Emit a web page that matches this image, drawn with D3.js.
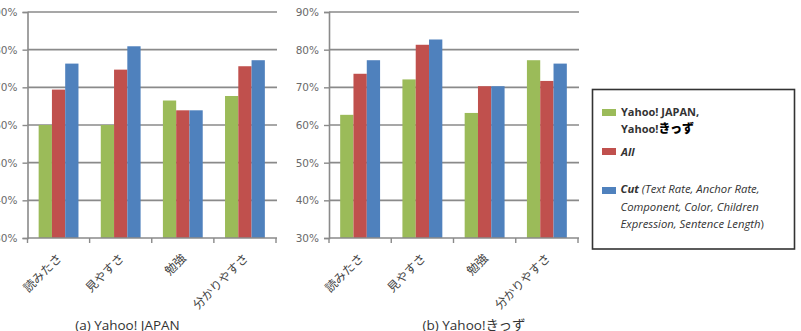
<!DOCTYPE html>
<html><head><meta charset="utf-8">
<script src="https://cdn.jsdelivr.net/npm/d3@7"></script>
<style>
body{margin:0;background:#fff;}
svg{display:block;}
</style></head>
<body>
<svg id="chart" width="801" height="331"></svg>
<script>
const categories = ["読みたさ", "見やすさ", "勉強", "分かりやすさ"];
const seriesNames = ["Yahoo", "All", "Cut"];
const seriesColors = ["#9BBB59", "#C0504D", "#4F81BD"];
const yTicks = [0.3, 0.4, 0.5, 0.6, 0.7, 0.8, 0.9];
// (a) Yahoo! JAPAN
const japanYahoo = [0.600, 0.600, 0.665, 0.677];
const japanAll   = [0.694, 0.747, 0.639, 0.756];
const japanCut   = [0.763, 0.809, 0.639, 0.772];
// (b) Yahoo!きっず
const kidsYahoo = [0.627, 0.721, 0.632, 0.772];
const kidsAll   = [0.736, 0.813, 0.703, 0.717];
const kidsCut   = [0.772, 0.827, 0.703, 0.763];
const titles = ["(a) Yahoo! JAPAN", "(b) Yahoo!きっず"];

const svg = d3.select("#chart");
const gridColor = "#8a8a8a";

function drawPanel(x0px, x1px, series, title, titleX) {
  const g = svg.append("g");
  const y = d3.scaleLinear().domain([0.3, 0.9]).range([238, 12]);
  const x0 = d3.scaleBand().domain(categories).range([x0px, x1px]).padding(0);
  const x1 = d3.scaleBand().domain(seriesNames).range([0, x0.bandwidth()]).paddingInner(0).paddingOuter(0.84);

  g.selectAll("line.grid").data(yTicks.slice(1)).enter().append("line")
    .attr("x1", x0px).attr("x2", x1px + 1)
    .attr("y1", d => y(d)).attr("y2", d => y(d))
    .attr("stroke", gridColor).attr("stroke-width", 1.6);

  categories.forEach((c, i) => {
    seriesNames.forEach((s, j) => {
      const v = series[j][i];
      g.append("rect")
        .attr("x", x0(c) + x1(s))
        .attr("width", x1.bandwidth())
        .attr("y", y(v))
        .attr("height", y(0.3) - y(v))
        .attr("fill", seriesColors[j]);
    });
  });

  const yAxis = d3.axisLeft(y).tickValues(yTicks).tickSize(5).tickPadding(5)
    .tickFormat(d3.format(".0%"));
  const ya = g.append("g").attr("transform", `translate(${x0px},0)`).call(yAxis);
  ya.select(".domain").attr("stroke", gridColor).attr("stroke-width", 1.6);
  ya.selectAll(".tick line").attr("stroke", gridColor).attr("stroke-width", 1.4);
  ya.selectAll(".tick text").attr("fill", "#6a6a6a")
    .style("font-family", "DejaVu Sans").style("font-size", "10.5px");

  g.append("line").attr("x1", x0px).attr("x2", x1px + 1)
    .attr("y1", y(0.3)).attr("y2", y(0.3))
    .attr("stroke", gridColor).attr("stroke-width", 1.6);
  const bounds = categories.map(c => x0(c)).concat([x1px]);
  g.selectAll("line.xt").data(bounds).enter().append("line")
    .attr("x1", d => d).attr("x2", d => d)
    .attr("y1", y(0.3)).attr("y2", y(0.3) + 5)
    .attr("stroke", gridColor).attr("stroke-width", 1.4);

  g.selectAll("text.xl").data(categories).enter().append("text")
    .attr("transform", d => `translate(${x0(d) + x0.bandwidth() / 2 + 4},259) rotate(-45)`)
    .attr("text-anchor", "end")
    .attr("fill", "#444")
    .style("font-family", "Noto Sans CJK JP").style("font-size", "12px")
    .text(d => d);

  g.append("text").attr("x", titleX).attr("y", 330)
    .attr("text-anchor", "middle").attr("fill", "#333")
    .style("font-family", "Open Sans, Noto Sans CJK JP").style("font-size", "13.5px")
    .text(title);
}

drawPanel(27.5, 276, [japanYahoo, japanAll, japanCut], titles[0], 127.5);
drawPanel(329, 578, [kidsYahoo, kidsAll, kidsCut], titles[1], 474);

const lg = svg.append("g");
lg.append("rect").attr("x", 592.5).attr("y", 89.5).attr("width", 202).attr("height", 159.5)
  .attr("fill", "#fff").attr("stroke", "#333").attr("stroke-width", 1.6);
const legendFont = "Open Sans, Noto Sans CJK JP";
const swY = [109, 148, 187];
seriesColors.forEach((c, i) => {
  lg.append("rect").attr("x", 602).attr("y", swY[i]).attr("width", 14).attr("height", 7).attr("fill", c);
});
const t1 = lg.append("text").attr("x", 621).attr("y", 116).attr("fill", "#333")
  .style("font-family", legendFont).style("font-size", "11px").style("font-weight", "bold");
t1.append("tspan").text("Yahoo! JAPAN,");
const t1b = lg.append("text").attr("x", 621).attr("y", 132.5).attr("fill", "#333")
  .style("font-family", legendFont).style("font-size", "11px").style("font-weight", "bold");
t1b.append("tspan").text("Yahoo!");
t1b.append("tspan").attr("fill", "#000").style("font-family", "Noto Sans CJK JP").style("font-weight", "900").style("font-size", "12px").text("きっず");
lg.append("text").attr("x", 621).attr("y", 155.5).attr("fill", "#333")
  .style("font-family", legendFont).style("font-size", "11px").style("font-weight", "bold")
  .style("font-style", "italic").text("All");
const cutLines = [
  [["Cut", true], [" (Text Rate, Anchor Rate,", false]],
  [["Component, Color, Children", false]],
  [["Expression, Sentence Length", false], [")", "plain"]]
];
cutLines.forEach((ln, i) => {
  const t = lg.append("text").attr("x", 620.5).attr("y", 193 + i * 17.5).attr("fill", "#333")
    .style("font-family", legendFont).style("font-size", "11.3px");
  ln.forEach(([s, b]) => {
    const sp = t.append("tspan").text(s);
    if (b === true) sp.style("font-weight", "bold").style("font-style", "italic");
    else if (b === false) sp.style("font-style", "italic");
  });
});
</script>
</body></html>
